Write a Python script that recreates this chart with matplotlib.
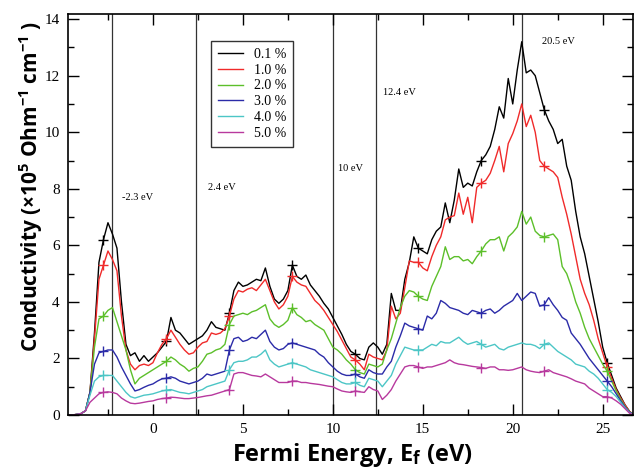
import numpy as np
import matplotlib
matplotlib.use("Agg")
import matplotlib.pyplot as plt
from matplotlib.ticker import MultipleLocator

# =========================
# DATA
# =========================

# energy grid, 0.25 eV steps
energy = np.arange(-4.75, 26.76, 0.25)

cond_01 = [
    0.0, 0.0, 0.02, 0.05, 0.15, 0.8, 2.9, 5.4, 6.2, 6.8, 6.4, 5.9, 4.0, 2.5, 2.1, 2.2, 1.9, 2.1, 1.9, 2.05,
    2.2, 2.4, 2.6, 3.45, 3.0, 2.9, 2.7, 2.5, 2.6, 2.7, 2.8, 3.0, 3.3, 3.1, 3.05, 3.0, 3.6, 4.4, 4.7, 4.55,
    4.6, 4.7, 4.8, 4.75, 5.2, 4.55, 4.1, 3.95, 4.1, 4.4, 5.3, 4.9, 4.8, 4.95, 4.6, 4.4, 4.2, 3.95, 3.75, 3.45,
    3.15, 2.85, 2.5, 2.25, 2.15, 2.0, 1.95, 2.4, 2.55, 2.4, 2.15, 2.5, 4.3, 3.7, 3.7, 4.8, 5.4, 6.3, 5.9, 5.8,
    5.7, 6.2, 6.5, 6.65, 7.5, 6.8, 7.6, 8.7, 8.05, 8.2, 8.1, 8.6, 9.0, 9.2, 9.5, 10.1, 10.9, 10.5, 11.9, 11.0,
    12.2, 13.2, 12.1, 12.2, 12.0, 11.4, 10.8, 10.4, 10.1, 9.6, 9.75, 8.8, 8.3, 7.2, 6.3, 5.7, 4.9, 4.1, 3.3, 2.4,
    1.85, 1.4, 0.95, 0.65, 0.35, 0.12, 0.0,
]

cond_10 = [
    0.0, 0.0, 0.02, 0.05, 0.15, 0.8, 2.7, 4.8, 5.3, 5.8, 5.5, 5.1, 3.5, 2.3, 1.8, 1.6, 1.75, 1.8, 1.75, 1.85,
    2.2, 2.5, 2.7, 3.0, 2.75, 2.5, 2.3, 2.15, 2.2, 2.4, 2.55, 2.6, 2.9, 2.85, 2.9, 3.05, 3.5, 4.1, 4.4, 4.35,
    4.45, 4.5, 4.4, 4.6, 4.8, 4.4, 4.0, 3.75, 3.9, 4.2, 4.9, 4.7, 4.6, 4.55, 4.3, 4.05, 3.9, 3.7, 3.45, 3.2,
    2.95, 2.65, 2.35, 2.05, 1.95, 1.8, 1.6, 2.15, 2.05, 2.0, 1.95, 2.3, 3.85, 3.4, 3.6, 4.5, 5.45, 5.4, 5.4, 5.2,
    5.1, 5.6, 6.0, 6.3, 6.9, 7.0, 7.05, 7.85, 7.1, 7.7, 6.8, 8.05, 8.2, 8.3, 8.55, 9.0, 9.5, 8.6, 9.6, 9.95,
    10.4, 11.0, 10.2, 10.6, 10.0, 9.0, 8.8, 8.7, 8.6, 8.4, 7.7, 7.1, 6.4, 5.6, 4.8, 4.3, 3.9, 3.35, 2.7, 2.2,
    1.7, 1.3, 0.9, 0.6, 0.35, 0.12, 0.0,
]

cond_20 = [
    0.0, 0.0, 0.02, 0.05, 0.15, 0.8, 2.4, 3.4, 3.5, 3.7, 3.8, 3.3, 2.8, 2.3, 1.6, 1.1, 1.3, 1.4, 1.5, 1.6,
    1.7, 1.8, 1.9, 2.05, 1.95, 1.8, 1.7, 1.55, 1.65, 1.7, 1.9, 2.15, 2.2, 2.3, 2.35, 2.5, 3.2, 3.5, 3.55, 3.6,
    3.55, 3.65, 3.7, 3.8, 3.9, 3.4, 3.2, 3.1, 3.2, 3.35, 3.8, 3.55, 3.45, 3.3, 3.35, 3.2, 3.1, 3.0, 2.7, 2.4,
    2.3, 2.15, 1.95, 1.8, 1.6, 1.5, 1.45, 1.8, 1.75, 1.7, 1.8, 2.3, 2.7, 3.25, 3.8, 4.2, 4.4, 4.35, 4.2, 4.1,
    4.05, 4.55, 4.9, 5.25, 5.95, 5.5, 5.6, 5.6, 5.45, 5.5, 5.35, 5.6, 5.8, 6.05, 6.2, 6.2, 6.3, 5.8, 6.3, 6.45,
    6.65, 7.2, 6.75, 7.0, 6.5, 6.35, 6.3, 6.35, 6.4, 6.2, 5.25, 5.0, 4.55, 4.0, 3.6, 3.1, 2.7, 2.4, 2.1, 1.8,
    1.55, 1.2, 0.85, 0.55, 0.3, 0.1, 0.0,
]

cond_30 = [
    0.0, 0.0, 0.02, 0.05, 0.15, 0.8, 1.8, 2.2, 2.25, 2.3, 2.3, 2.05, 1.7, 1.4, 1.1, 0.85, 0.9, 0.98, 1.05, 1.1,
    1.2, 1.28, 1.3, 1.35, 1.3, 1.2, 1.15, 1.1, 1.15, 1.2, 1.3, 1.45, 1.4, 1.45, 1.5, 1.55, 2.3, 2.7, 2.75, 2.6,
    2.65, 2.75, 2.7, 2.85, 3.0, 2.6, 2.4, 2.3, 2.35, 2.5, 2.55, 2.5, 2.45, 2.4, 2.35, 2.3, 2.15, 2.05, 1.85, 1.7,
    1.55, 1.45, 1.4, 1.4, 1.45, 1.35, 1.3, 1.6, 1.5, 1.45, 1.45, 1.7, 1.9, 2.4, 2.8, 3.25, 3.15, 3.1, 3.05, 3.0,
    3.5, 3.4, 3.6, 4.05, 3.95, 3.8, 3.75, 3.7, 3.6, 3.55, 3.7, 3.65, 3.6, 3.7, 3.75, 3.6, 3.7, 3.85, 3.95, 4.05,
    4.3, 4.05, 4.2, 4.35, 4.3, 3.85, 3.9, 4.15, 3.9, 3.7, 3.45, 3.35, 2.9, 2.7, 2.5, 2.25, 2.0, 1.8, 1.6, 1.4,
    1.2, 1.0, 0.75, 0.5, 0.28, 0.1, 0.0,
]

cond_40 = [
    0.0, 0.0, 0.02, 0.05, 0.15, 0.7, 1.2, 1.35, 1.4, 1.4, 1.4, 1.2, 1.0, 0.8, 0.65, 0.6, 0.65, 0.7, 0.72, 0.75,
    0.8, 0.85, 0.88, 0.9, 0.85, 0.8, 0.78, 0.75, 0.8, 0.85, 0.9, 1.0, 1.05, 1.1, 1.15, 1.2, 1.6, 1.85, 1.9, 1.9,
    1.95, 2.05, 2.05, 2.15, 2.3, 1.95, 1.8, 1.7, 1.75, 1.8, 1.85, 1.8, 1.75, 1.7, 1.6, 1.55, 1.5, 1.45, 1.4, 1.35,
    1.25, 1.15, 1.1, 1.1, 1.15, 1.05, 1.0, 1.3, 1.25, 1.2, 1.0, 1.2, 1.4, 1.8, 2.1, 2.4, 2.35, 2.3, 2.3, 2.3,
    2.4, 2.5, 2.45, 2.6, 2.55, 2.55, 2.65, 2.75, 2.6, 2.5, 2.55, 2.6, 2.5, 2.4, 2.45, 2.5, 2.35, 2.3, 2.4, 2.45,
    2.5, 2.55, 2.5, 2.5, 2.45, 2.35, 2.5, 2.55, 2.4, 2.25, 2.15, 2.05, 1.95, 1.8, 1.75, 1.7, 1.55, 1.45, 1.3, 1.1,
    0.9, 0.8, 0.65, 0.45, 0.25, 0.08, 0.0,
]

cond_50 = [
    0.0, 0.0, 0.02, 0.05, 0.15, 0.45, 0.6, 0.75, 0.8, 0.82, 0.8, 0.75, 0.6, 0.5, 0.42, 0.4, 0.42, 0.45, 0.48, 0.5,
    0.55, 0.58, 0.6, 0.63, 0.62, 0.6, 0.58, 0.58, 0.6, 0.62, 0.65, 0.68, 0.7, 0.75, 0.8, 0.85, 0.9, 1.45, 1.5, 1.5,
    1.45, 1.4, 1.38, 1.35, 1.45, 1.35, 1.25, 1.15, 1.15, 1.15, 1.2, 1.2, 1.15, 1.15, 1.12, 1.1, 1.08, 1.05, 1.02, 1.0,
    0.92, 0.85, 0.82, 0.8, 0.85, 0.82, 0.8, 1.0, 0.9, 0.85, 0.55, 0.7, 0.9, 1.2, 1.45, 1.7, 1.75, 1.75, 1.7, 1.65,
    1.7, 1.7, 1.75, 1.8, 1.85, 1.95, 1.85, 1.8, 1.78, 1.75, 1.72, 1.7, 1.68, 1.65, 1.7, 1.7, 1.6, 1.6, 1.58, 1.6,
    1.65, 1.7, 1.6, 1.55, 1.52, 1.5, 1.55, 1.6, 1.5, 1.45, 1.4, 1.35, 1.28, 1.2, 1.15, 1.1, 0.95, 0.85, 0.75, 0.65,
    0.65, 0.6, 0.5, 0.38, 0.22, 0.06, 0.0,
]

series = [cond_01, cond_10, cond_20, cond_30, cond_40, cond_50]
labels = ["0.1 %", "1.0 %", "2.0 %", "3.0 %", "4.0 %", "5.0 %"]
colors = ["#000000", "#f02a2a", "#5cbf2a", "#2b2ba8", "#4cc6c6", "#b8399e"]

# marked energies (vertical lines) and their labels
line_pos = [-2.3, 2.4, 10.0, 12.4, 20.5]
line_text = ["-2.3 eV", "2.4 eV", "10 eV", "12.4 eV", "20.5 eV"]
text_x = [-1.7, 3.05, 10.3, 12.8, 21.6]
text_y = [7.7, 8.05, 8.7, 11.4, 13.2]

# =========================
# FONTS
# =========================
plt.rcParams['mathtext.fontset'] = 'custom'
plt.rcParams['mathtext.rm'] = 'Open Sans:bold'
plt.rcParams['mathtext.it'] = 'Open Sans:bold'
plt.rcParams['mathtext.bf'] = 'Open Sans:bold'
serif = 'Liberation Serif'

# =========================
# PLOT
# =========================
fig = plt.figure(figsize=(6.34, 4.69), dpi=100)
ax = fig.add_axes([0.1073, 0.1151, 0.8907, 0.855])

for vals, lab, col in zip(series, labels, colors):
    ax.plot(energy, vals, color=col, lw=1.0, label=lab,
            marker='+', markersize=7, markeredgewidth=1.0, markevery=(8, 14))

for xp in line_pos:
    ax.axvline(xp, color='#333333', lw=0.9, zorder=0)

for tx, ty, s in zip(text_x, text_y, line_text):
    ax.text(tx, ty, s, fontsize=7.5, family=serif, va='center', ha='left')

ax.set_xlim(-4.72, 26.67)
ax.set_ylim(0, 14.18)
ax.xaxis.set_major_locator(MultipleLocator(5))
ax.xaxis.set_minor_locator(MultipleLocator(2.5))
ax.yaxis.set_major_locator(MultipleLocator(2))
ax.yaxis.set_minor_locator(MultipleLocator(1))
ax.tick_params(which='both', direction='in', top=True, right=True, width=1)
ax.tick_params(which='major', length=8, labelsize=11, pad=6)
ax.tick_params(which='minor', length=4)
for lbl in ax.get_xticklabels() + ax.get_yticklabels():
    lbl.set_family(serif)
for sp in ax.spines.values():
    sp.set_linewidth(1.2)

ax.set_xlabel(r'Fermi Energy, E$_{f}$ (eV)', fontsize=17, family='Open Sans',
              fontweight='bold')
ax.xaxis.set_label_coords(0.503, -0.066)
ax.set_ylabel(r'Conductivity (×10$^{5}$ Ohm$^{-1}$ cm$^{-1}$ )', fontsize=15,
              family='Open Sans', fontweight='bold')
ax.yaxis.set_label_coords(-0.04, 0.57)

leg = ax.legend(loc='upper left', bbox_to_anchor=(0.253, 0.933), frameon=True,
                fancybox=False, edgecolor='black', handlelength=1.8,
                prop={'family': serif, 'size': 10}, labelspacing=0.2,
                borderpad=0.5, handletextpad=0.8, borderaxespad=0)
leg.get_frame().set_linewidth(1.0)
for h in leg.legend_handles:
    h.set_marker('')

fig.savefig("out.png", dpi=100)
